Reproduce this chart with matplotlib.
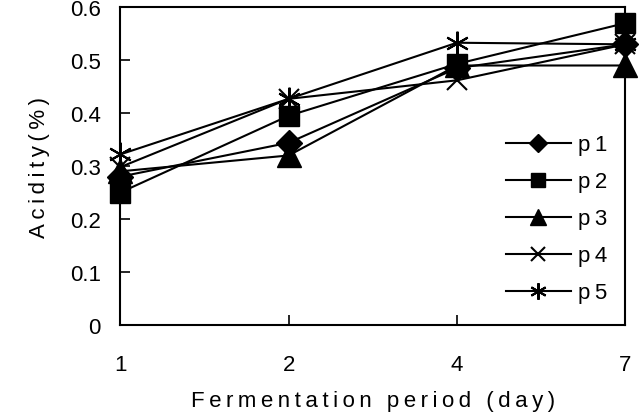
import matplotlib
matplotlib.use('Agg')
from matplotlib import pyplot as plt

days = ['1', '2', '4', '7']
p1 = [0.28, 0.344, 0.485, 0.53]
p2 = [0.25, 0.395, 0.493, 0.57]
p3 = [0.29, 0.32, 0.49, 0.49]
p4 = [0.298, 0.427, 0.462, 0.53]
p5 = [0.322, 0.427, 0.533, 0.53]
labels = ['p1', 'p2', 'p3', 'p4', 'p5']

plt.rcParams['font.family'] = ['Liberation Sans', 'DejaVu Sans']


def spaced(s):
    # wide letter spacing like the original
    return '\u2009'.join(s)


fig = plt.figure(figsize=(6.4, 4.14), dpi=100)
ax = fig.add_axes([0.188, 0.213, 0.789, 0.767])

x = range(len(days))
series = [p1, p2, p3, p4, p5]
markers = ['D', 's', '^', 'x', (6, 2, 0)]
sizes = [13, 14, 17, 15, 17]
for vals, m, ms, lab in zip(series, markers, sizes, labels):
    ax.plot(x, vals, color='black', lw=1.5, marker=m, markersize=ms,
            markeredgewidth=1.5 if m in ('x', (6, 2, 0)) else 1,
            markerfacecolor='black', markeredgecolor='black',
            label=spaced(lab), clip_on=False, zorder=3)

ax.set_xlim(0, 3)
ax.set_ylim(0, 0.6)
ax.set_xticks(list(x))
ax.set_xticklabels(days)
ax.set_yticks([0, 0.1, 0.2, 0.3, 0.4, 0.5, 0.6])
ax.set_yticklabels(['0', '0.1', '0.2', '0.3', '0.4', '0.5', '0.6'])
ax.tick_params(axis='both', direction='in', length=7, width=1.2,
               labelsize=16)
ax.tick_params(axis='x', pad=21)
ax.tick_params(axis='y', pad=14)
for sp in ax.spines.values():
    sp.set_linewidth(1.5)

ax.set_xlabel(spaced('Fermentation period (day)'), fontsize=16, labelpad=11)
ax.set_ylabel(spaced('Acidity(%)'), fontsize=16, labelpad=14)

ax.legend(loc='upper left', bbox_to_anchor=(0.764, 0.60), frameon=False,
          borderpad=0, borderaxespad=0, markerscale=0.7,
          fontsize=16, handlelength=2.9, handletextpad=0.35, labelspacing=0.72)

plt.savefig('out.png', dpi=100)
